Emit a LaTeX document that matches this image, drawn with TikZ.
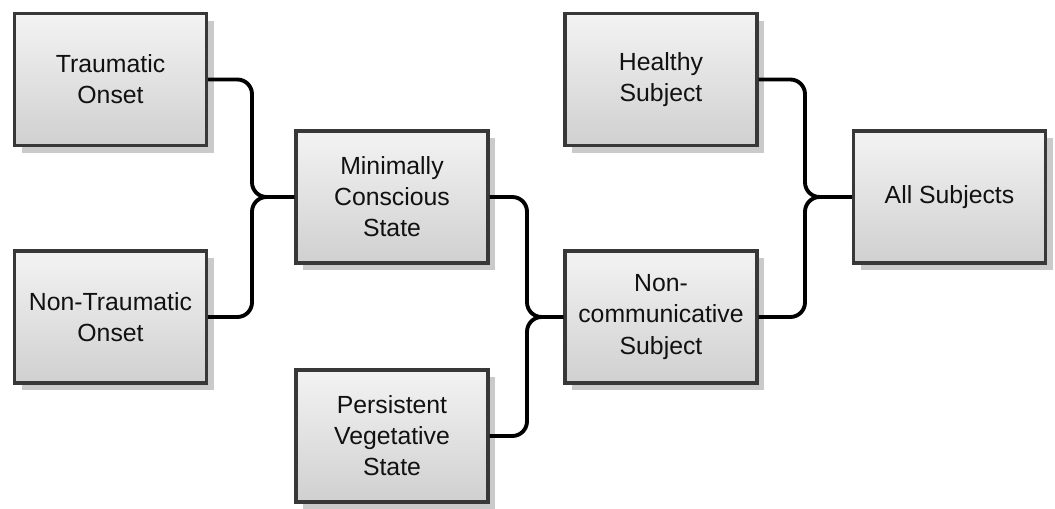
\documentclass[tikz,border=0pt]{standalone}
\usepackage{fontspec}
\setmainfont{Liberation Sans}
\usetikzlibrary{shadows}
\definecolor{boxtop}{HTML}{F3F3F3}
\definecolor{boxbot}{HTML}{D0D0D0}
\definecolor{boxline}{HTML}{383838}
\definecolor{shadowc}{HTML}{CACACA}
\definecolor{txt}{HTML}{111111}
\begin{document}
\begin{tikzpicture}[x=0.75pt,y=-0.75pt,
  box/.style={draw=boxline, line width=2.3pt, top color=boxtop, bottom color=boxbot,
    minimum width=144pt, minimum height=99pt, inner sep=0pt, align=center,
    font=\fontsize{18.6}{23.3}\selectfont, text=txt,
    drop shadow={shadow xshift=5.5pt, shadow yshift=-5.5pt, fill=shadowc, opacity=1}},
  link/.style={line width=2.9pt, rounded corners=11pt}]
\useasboundingbox (0,0) rectangle (1055,508);
\fill[white] (0,0) rectangle (1055,508);

\node[box] (to)  at (110.5,79.5) {Traumatic\\Onset};
\node[box] (nto) at (110.5,317)  {Non-Traumatic\\Onset};
\node[box] (mcs) at (392,197)    {Minimally\\Conscious\\State};
\node[box] (pvs) at (392,436)    {Persistent\\Vegetative\\State};
\node[box] (hs)  at (661,79.5)   {Healthy\\Subject};
\node[box] (nc)  at (661,317)    {Non-\\communicative\\Subject};
\node[box] (as)  at (949.5,197)  {All Subjects};

\coordinate (j1) at (252,197);
\coordinate (j2) at (527,317);
\coordinate (j3) at (805,197);

\draw[link] (to.east) -| (j1) -- (mcs.west);
\draw[link] (nto.east) -| (j1) -- (mcs.west);
\draw[link] (mcs.east) -| (j2) -- (nc.west);
\draw[link] (pvs.east) -| (j2) -- (nc.west);
\draw[link] (hs.east) -| (j3) -- (as.west);
\draw[link] (nc.east) -| (j3) -- (as.west);
\end{tikzpicture}
\end{document}
